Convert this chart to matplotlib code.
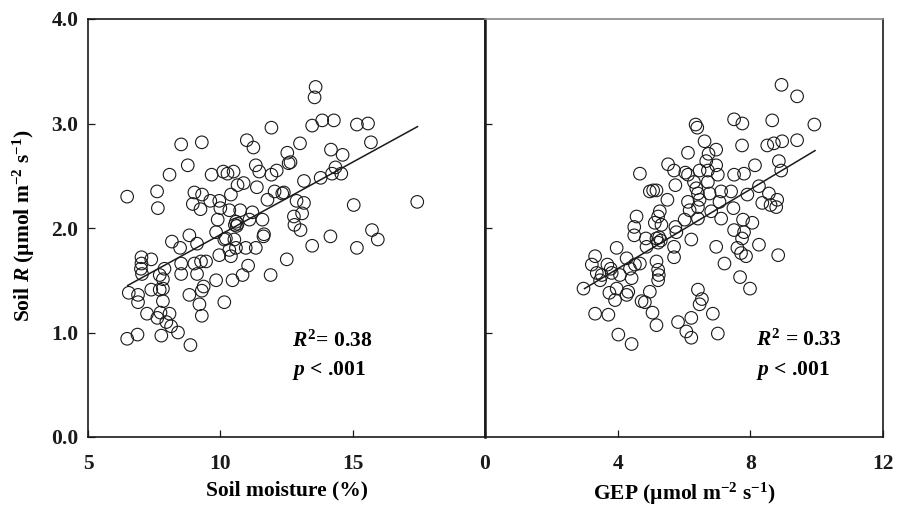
import matplotlib
matplotlib.use("Agg")
import matplotlib.pyplot as plt
import numpy as np

# Left panel: soil moisture (%) vs soil respiration
soil_moisture = [
    8.52, 9.30, 8.77, 8.08, 6.48, 7.61, 7.64, 9.67, 10.11, 9.02,
    9.31, 8.96, 9.25, 9.62, 9.96, 10.00, 9.90, 9.84, 10.15, 9.96,
    8.83, 8.17, 8.48, 9.12, 8.52, 8.52, 9.02, 9.27, 9.46, 9.12,
    7.02, 7.02, 7.00, 7.04, 7.39, 7.89, 7.71, 7.83, 7.39, 7.71,
    7.83, 6.54, 6.89, 6.89, 7.83, 8.83, 9.30, 9.37, 9.21, 9.30,
    9.84, 10.15, 7.23, 7.62, 7.74, 8.08, 7.96, 8.14, 8.40, 6.48,
    6.87, 7.77, 8.87, 13.60, 13.56, 13.47, 13.85, 14.29, 11.93, 11.00,
    11.25, 13.01, 12.53, 12.65, 12.58, 14.18, 14.62, 11.34, 11.47, 11.93,
    12.13, 10.50, 10.27, 14.35, 14.22, 13.79, 13.16, 10.88, 10.65, 11.38,
    10.40, 12.05, 12.34, 12.40, 11.78, 12.88, 13.16, 10.34, 10.75, 11.21,
    11.59, 11.10, 12.78, 13.09, 12.80, 13.03, 10.59, 10.65, 10.55, 10.62,
    11.63, 11.65, 10.21, 10.53, 10.34, 10.59, 10.96, 11.34, 10.40, 11.05,
    10.84, 10.46, 11.90, 12.51, 13.47, 14.16, 15.16, 15.58, 15.69, 14.57,
    15.04, 17.44, 15.73, 15.95, 15.16,
]
soil_r_moist = [
    2.80, 2.82, 2.60, 2.51, 2.30, 2.35, 2.19, 2.51, 2.54, 2.34,
    2.32, 2.23, 2.18, 2.26, 2.26, 2.19, 2.08, 1.96, 1.89, 1.74,
    1.93, 1.87, 1.81, 1.85, 1.66, 1.56, 1.66, 1.68, 1.68, 1.56,
    1.72, 1.66, 1.61, 1.56, 1.70, 1.61, 1.55, 1.51, 1.41, 1.41,
    1.42, 1.38, 1.36, 1.29, 1.30, 1.36, 1.40, 1.44, 1.27, 1.16,
    1.50, 1.29, 1.18, 1.14, 1.19, 1.18, 1.10, 1.06, 1.00, 0.94,
    0.98, 0.97, 0.88, 3.35, 3.25, 2.98, 3.03, 3.03, 2.96, 2.84,
    2.77, 2.81, 2.72, 2.63, 2.62, 2.75, 2.70, 2.60, 2.54, 2.51,
    2.55, 2.54, 2.52, 2.58, 2.52, 2.48, 2.45, 2.43, 2.41, 2.39,
    2.32, 2.35, 2.33, 2.34, 2.27, 2.26, 2.24, 2.17, 2.17, 2.15,
    2.08, 2.08, 2.11, 2.14, 2.03, 1.98, 2.06, 2.04, 2.03, 2.02,
    1.92, 1.94, 1.90, 1.89, 1.79, 1.81, 1.81, 1.81, 1.73, 1.64,
    1.55, 1.50, 1.55, 1.70, 1.83, 1.92, 2.99, 3.00, 2.82, 2.52,
    2.22, 2.25, 1.98, 1.89, 1.81,
]

# Right panel: GEP vs soil respiration
gep = [
    4.67, 4.97, 4.57, 4.50, 4.50, 3.97, 4.85, 4.87, 3.32, 3.22,
    3.37, 3.52, 3.69, 3.79, 3.82, 4.27, 4.37, 4.52, 4.67, 4.07,
    4.42, 3.47, 2.97, 3.97, 3.75, 3.92, 4.32, 4.27, 4.72, 4.97,
    3.32, 3.72, 4.02, 4.42, 5.05, 6.35, 6.40, 6.62, 6.97, 6.12,
    6.74, 6.67, 5.52, 5.70, 6.04, 6.12, 6.47, 6.72, 6.97, 7.02,
    6.30, 6.72, 5.74, 5.07, 5.17, 6.37, 6.42, 6.77, 7.12, 5.50,
    6.12, 6.47, 6.42, 7.07, 6.17, 5.27, 5.22, 5.12, 5.32, 6.02,
    6.42, 6.82, 7.12, 5.74, 5.77, 5.17, 5.25, 5.30, 5.22, 6.22,
    5.70, 5.70, 6.97, 5.17, 5.22, 5.24, 5.22, 4.82, 6.42, 6.54,
    6.47, 6.87, 5.17, 5.82, 6.22, 6.07, 6.22, 7.02, 7.22, 8.94,
    9.41, 7.51, 7.76, 8.66, 7.75, 8.51, 8.71, 8.96, 9.41, 8.86,
    8.93, 8.14, 7.51, 7.81, 7.42, 7.91, 8.26, 8.56, 8.36, 8.61,
    8.81, 8.78, 7.49, 7.78, 8.06, 7.51, 7.81, 7.75, 8.26, 7.61,
    7.72, 7.87, 8.84, 7.69, 7.99, 9.93,
]
soil_r_gep = [
    2.52, 2.35, 2.11, 2.01, 1.93, 1.81, 1.90, 1.82, 1.73, 1.65,
    1.57, 1.55, 1.65, 1.61, 1.57, 1.71, 1.61, 1.65, 1.66, 1.55,
    1.52, 1.50, 1.42, 1.42, 1.38, 1.31, 1.39, 1.36, 1.30, 1.39,
    1.18, 1.17, 0.98, 0.89, 1.19, 2.99, 2.96, 2.83, 2.75, 2.72,
    2.71, 2.64, 2.61, 2.55, 2.53, 2.51, 2.55, 2.55, 2.60, 2.51,
    2.44, 2.44, 2.41, 2.36, 2.36, 2.38, 2.33, 2.33, 2.35, 2.27,
    2.25, 2.27, 2.20, 2.25, 2.17, 2.16, 2.11, 2.05, 2.03, 2.08,
    2.09, 2.16, 2.09, 2.01, 1.96, 1.90, 1.91, 1.88, 1.86, 1.89,
    1.82, 1.72, 1.82, 1.68, 1.60, 1.55, 1.50, 1.29, 1.41, 1.32,
    1.27, 1.18, 1.07, 1.10, 1.14, 1.01, 0.95, 0.99, 1.66, 3.37,
    3.26, 3.04, 3.00, 3.03, 2.79, 2.79, 2.81, 2.83, 2.84, 2.64,
    2.55, 2.60, 2.51, 2.52, 2.35, 2.32, 2.40, 2.33, 2.24, 2.22,
    2.27, 2.20, 2.19, 2.08, 2.05, 1.98, 1.96, 1.90, 1.84, 1.81,
    1.76, 1.73, 1.74, 1.53, 1.42, 2.99,
]

# Regression lines: x range, (slope, intercept)
fit_moist_x = [6.5, 17.45]
fit_moist = (0.1388, 0.548)
fit_gep_x = [3.0, 9.95]
fit_gep = (0.19, 0.85)

plt.rcParams["font.family"] = ["Liberation Serif", "DejaVu Serif"]
plt.rcParams["font.weight"] = "bold"
plt.rcParams["mathtext.fontset"] = "custom"
plt.rcParams["mathtext.rm"] = "Liberation Serif:bold"
plt.rcParams["mathtext.it"] = "Liberation Serif:italic:bold"
plt.rcParams["mathtext.bf"] = "Liberation Serif:bold"

FS = 15.5
fig = plt.figure(figsize=(9.02, 5.07), dpi=100)
ax1 = fig.add_axes([88 / 902, 70 / 507, 397 / 902, 418 / 507])
ax2 = fig.add_axes([485 / 902, 70 / 507, 398 / 902, 418 / 507])

marker_kw = dict(s=82, facecolors="none", edgecolors="#1a1a1a", linewidths=0.8)

ax1.scatter(soil_moisture, soil_r_moist, **marker_kw)
fx = np.array(fit_moist_x)
ax1.plot(fx, fit_moist[0] * fx + fit_moist[1], color="#1a1a1a", lw=1.1)

ax2.scatter(gep, soil_r_gep, **marker_kw)
gx = np.array(fit_gep_x)
ax2.plot(gx, fit_gep[0] * gx + fit_gep[1], color="#1a1a1a", lw=1.1)

ax1.set_xlim(5, 20)
ax1.set_ylim(0, 4)
ax1.set_xticks([5, 10, 15, 20])
ax1.set_xticklabels(["5", "10", "15", ""])
ax1.set_yticks([0, 1, 2, 3, 4])
ax1.set_yticklabels(["0.0", "1.0", "2.0", "3.0", "4.0"])

ax2.set_xlim(0, 12)
ax2.set_ylim(0, 4)
ax2.set_xticks([0, 4, 8, 12])
ax2.set_xticklabels(["0", "4", "8", "12"])
ax2.set_yticks([1, 2, 3])
ax2.set_yticklabels([])

for ax in (ax1, ax2):
    ax.tick_params(direction="in", length=5, width=0.9, labelsize=FS, colors="#1a1a1a")
    ax.tick_params(axis="x", pad=12)
    ax.tick_params(axis="y", pad=7)
    for sp in ax.spines.values():
        sp.set_linewidth(1.2)
        sp.set_color("#1a1a1a")
ax2.spines["top"].set_color("#888888")
ax2.spines["left"].set_linewidth(1.8)

ax1.set_xlabel("Soil moisture (%)", fontsize=FS, fontweight="bold", labelpad=5)
ax2.set_xlabel("GEP (µmol m$^{-2}$ s$^{-1}$)", fontsize=FS, fontweight="bold", labelpad=5)
fig.text(24 / 902, 1 - 226 / 507, "Soil $R$ (µmol m$^{-2}$ s$^{-1}$)", rotation=90,
         ha="center", va="center", fontsize=FS, fontweight="bold")

fig.text(292 / 902, 1 - 341 / 507, "$R^2$= 0.38", fontsize=FS, va="center", ha="left")
fig.text(292 / 902, 1 - 371 / 507, "$p$ < .001", fontsize=FS, va="center", ha="left")
fig.text(756 / 902, 1 - 340 / 507, "$R^2$ = 0.33", fontsize=FS, va="center", ha="left")
fig.text(756 / 902, 1 - 370 / 507, "$p$ < .001", fontsize=FS, va="center", ha="left")

fig.savefig("out.png", dpi=100)
